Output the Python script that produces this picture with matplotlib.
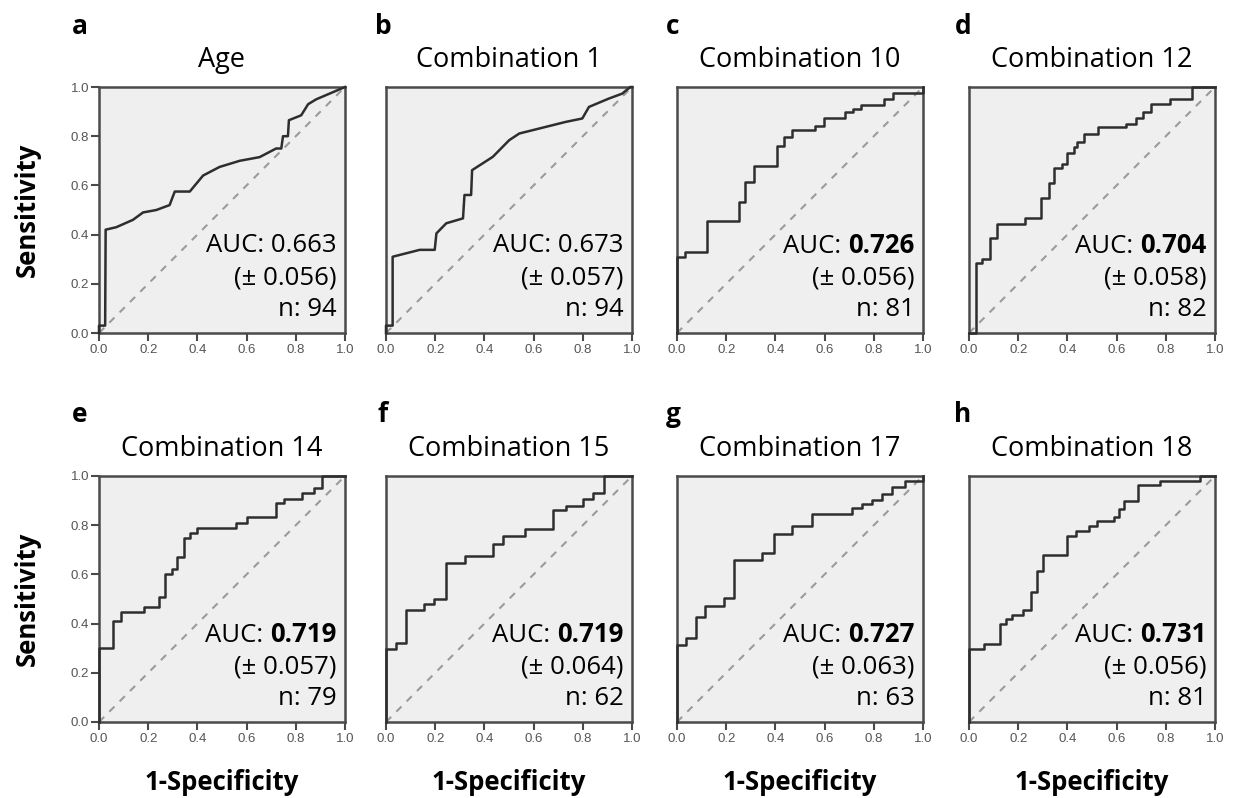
import numpy as np
import matplotlib.pyplot as plt

# panel info
letters = ["a", "b", "c", "d", "e", "f", "g", "h"]
titles = ["Age", "Combination 1", "Combination 10", "Combination 12",
          "Combination 14", "Combination 15", "Combination 17", "Combination 18"]
auc_values = ["0.663", "0.673", "0.726", "0.704", "0.719", "0.719", "0.727", "0.731"]
auc_bold = [False, False, True, True, True, True, True, True]
auc_se = ["0.056", "0.057", "0.056", "0.058", "0.057", "0.064", "0.063", "0.056"]
n_cases = [94, 94, 81, 82, 79, 62, 63, 81]

# ROC curves (a, b as polylines, the rest as step jumps)
fpr_a = [0, 0, 0.025, 0.027, 0.07, 0.138, 0.179, 0.233, 0.287, 0.308, 0.369, 0.423, 0.49,
         0.572, 0.653, 0.72, 0.741, 0.748, 0.768, 0.772, 0.822, 0.85, 0.883, 0.93, 1.0]
tpr_a = [0, 0.03, 0.03, 0.42, 0.43, 0.46, 0.49, 0.50, 0.52, 0.575, 0.575, 0.64, 0.675,
         0.70, 0.715, 0.75, 0.75, 0.80, 0.80, 0.865, 0.885, 0.93, 0.95, 0.97, 1.0]
fpr_b = [0, 0, 0.027, 0.027, 0.137, 0.198, 0.205, 0.245, 0.313, 0.319, 0.346, 0.35, 0.434,
         0.501, 0.542, 0.65, 0.73, 0.798, 0.825, 0.906, 0.96, 0.993, 1.0]
tpr_b = [0, 0.03, 0.03, 0.31, 0.338, 0.338, 0.405, 0.446, 0.466, 0.561, 0.561, 0.662, 0.716,
         0.784, 0.811, 0.838, 0.858, 0.872, 0.919, 0.953, 0.973, 1.0, 1.0]
fpr_c = [0, 0, 0.031, 0.12, 0.25, 0.277, 0.311, 0.407, 0.434, 0.468, 0.563, 0.598, 0.683,
         0.714, 0.748, 0.84, 0.877, 1.0]
tpr_c = [0, 0.31, 0.33, 0.455, 0.534, 0.615, 0.678, 0.76, 0.797, 0.824, 0.842, 0.876, 0.90,
         0.912, 0.928, 0.953, 0.977, 1.0]
fpr_d = [0, 0.029, 0.052, 0.086, 0.113, 0.229, 0.293, 0.325, 0.345, 0.379, 0.40, 0.427, 0.44,
         0.468, 0.523, 0.638, 0.679, 0.707, 0.741, 0.816, 0.905, 1.0]
tpr_d = [0, 0.284, 0.30, 0.385, 0.443, 0.466, 0.547, 0.608, 0.669, 0.685, 0.732, 0.757, 0.777,
         0.81, 0.838, 0.849, 0.872, 0.899, 0.932, 0.953, 1.0, 1.0]
fpr_e = [0, 0, 0.056, 0.09, 0.183, 0.244, 0.27, 0.297, 0.317, 0.344, 0.37, 0.40, 0.555, 0.60,
         0.72, 0.75, 0.826, 0.873, 0.905, 1.0]
tpr_e = [0, 0.30, 0.41, 0.447, 0.467, 0.51, 0.60, 0.62, 0.67, 0.75, 0.767, 0.79, 0.81, 0.833,
         0.89, 0.908, 0.93, 0.953, 1.0, 1.0]
fpr_f = [0, 0, 0.04, 0.08, 0.154, 0.195, 0.242, 0.32, 0.436, 0.474, 0.564, 0.678, 0.73, 0.80,
         0.84, 0.886, 1.0]
tpr_f = [0, 0.296, 0.323, 0.456, 0.478, 0.50, 0.648, 0.675, 0.723, 0.757, 0.785, 0.86, 0.88,
         0.908, 0.93, 1.0, 1.0]
fpr_g = [0, 0, 0.035, 0.078, 0.112, 0.192, 0.233, 0.347, 0.394, 0.468, 0.549, 0.711, 0.751,
         0.791, 0.832, 0.872, 0.926, 1.0]
tpr_g = [0, 0.315, 0.342, 0.425, 0.473, 0.503, 0.658, 0.689, 0.763, 0.795, 0.845, 0.87, 0.886,
         0.904, 0.927, 0.955, 0.979, 1.0]
fpr_h = [0, 0, 0.059, 0.127, 0.15, 0.175, 0.22, 0.25, 0.277, 0.30, 0.40, 0.433, 0.488, 0.52,
         0.59, 0.61, 0.63, 0.686, 0.775, 0.94, 1.0]
tpr_h = [0, 0.297, 0.318, 0.40, 0.42, 0.435, 0.455, 0.527, 0.612, 0.68, 0.756, 0.777, 0.795,
         0.818, 0.832, 0.866, 0.90, 0.962, 0.978, 1.0, 1.0]

curves = [(fpr_a, tpr_a), (fpr_b, tpr_b), (fpr_c, tpr_c), (fpr_d, tpr_d),
          (fpr_e, tpr_e), (fpr_f, tpr_f), (fpr_g, tpr_g), (fpr_h, tpr_h)]
stepped = [False, False, True, True, True, True, True, True]

W, H = 1234, 798
col_left = [99, 386, 677, 969]
row_top = [87, 476]
box = 246
letter_x = [80, 383, 673, 963]
letter_y = [27, 415]

FONT = ["Open Sans", "DejaVu Sans"]
TICKFONT = "Liberation Sans"
EDGE = "#4a4a4a"

fig = plt.figure(figsize=(W / 100, H / 100), dpi=100)

for i in range(8):
    r, c = divmod(i, 4)
    ax = fig.add_axes([col_left[c] / W, 1 - (row_top[r] + box) / H, box / W, box / H])
    ax.set_facecolor("#efefef")
    ax.plot([0, 1], [0, 1], color="#9b9b9b", lw=1.5, dashes=(3.5, 3.5))
    fpr, tpr = curves[i]
    ax.plot(fpr, tpr, color="#2e2e2e", lw=1.8,
            drawstyle="steps-post" if stepped[i] else "default", clip_on=False, zorder=3)
    ax.set_xlim(0, 1)
    ax.set_ylim(0, 1)
    for s in ax.spines.values():
        s.set_color(EDGE)
        s.set_linewidth(1.8)

    ticks = np.arange(0, 1.01, 0.2)
    ax.set_xticks(ticks)
    ax.set_xticklabels([f"{t:.1f}" for t in ticks], fontfamily=TICKFONT)
    ax.tick_params(axis="x", length=6, width=1.5, color=EDGE, labelsize=9.5,
                   labelcolor="#555555", pad=2, direction="out")
    if c == 0:
        ax.set_yticks(ticks)
        ax.set_yticklabels([f"{t:.1f}" for t in ticks], fontfamily=TICKFONT)
        ax.tick_params(axis="y", length=6, width=1.5, color=EDGE, labelsize=9.5,
                       labelcolor="#555555", pad=1, direction="out")
        fig.text(27 / W, 1 - (row_top[r] + box / 2) / H, "Sensitivity", rotation=90,
                 ha="center", va="center", fontsize=18.5, fontweight="bold", family=FONT)
    else:
        ax.set_yticks([])

    ax.text(0.5, 1 + 27 / box, titles[i], transform=ax.transAxes, ha="center",
            va="center", fontsize=19.5, family=FONT)
    fig.text(letter_x[c] / W, 1 - letter_y[r] / H, letters[i], ha="center", va="center",
             fontsize=19, fontweight="bold", family=FONT)

    # AUC block, bottom right
    tx = 0.965
    if auc_bold[i]:
        vt = ax.text(tx, 0.355, auc_values[i], transform=ax.transAxes, ha="right",
                     va="center", fontsize=18.5, fontweight="bold", family=FONT)
        ax.annotate("AUC: ", xy=(0, 0), xycoords=vt, ha="right", va="bottom",
                    fontsize=18.5, family=FONT)
    else:
        ax.text(tx, 0.355, "AUC: " + auc_values[i], transform=ax.transAxes, ha="right",
                va="center", fontsize=18.5, family=FONT)
    ax.text(tx, 0.225, f"(\u00b1 {auc_se[i]})", transform=ax.transAxes, ha="right",
            va="center", fontsize=18.5, family=FONT)
    ax.text(tx, 0.095, f"n: {n_cases[i]}", transform=ax.transAxes, ha="right",
            va="center", fontsize=18.5, family=FONT)

    if r == 1:
        fig.text((col_left[c] + box / 2) / W, 1 - 783 / H, "1-Specificity", ha="center",
                 va="center", fontsize=18.5, fontweight="bold", family=FONT)

fig.savefig("out.png", dpi=100)
